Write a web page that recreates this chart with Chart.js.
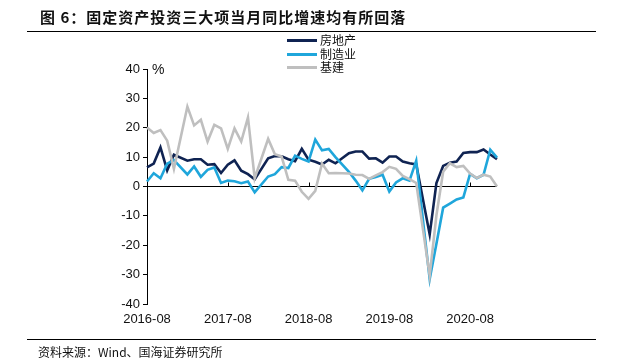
<!DOCTYPE html>
<html>
<head>
<meta charset="utf-8">
<script src="https://cdn.jsdelivr.net/npm/chart.js@4/dist/chart.umd.min.js"></script>
<style>
  html, body { margin: 0; padding: 0; background: #fff; }
  #wrap { position: relative; width: 623px; height: 363px; overflow: hidden; }
  #c { position: absolute; left: 0; top: 0; }
  .title { position: absolute; left: 40px; top: 6px; font: bold 15px "Noto Sans CJK SC", sans-serif; letter-spacing: 1px; color: #111; white-space: nowrap; }
  .rule { position: absolute; left: 27px; width: 569px; height: 1px; background: #000; }
  .legend { position: absolute; left: 287px; top: 33px; font: 12px "Noto Sans CJK SC", sans-serif; color: #111; }
  .legend div { position: relative; height: 13.5px; line-height: 13.5px; padding-left: 33px; }
  .legend span { position: absolute; left: 0; top: 6px; width: 30px; height: 3px; }
  .pct { position: absolute; left: 152px; top: 61px; font: 14px "Liberation Sans", Arial, sans-serif; color: #111; }
  .source { position: absolute; left: 38px; top: 343px; font: 12px "Noto Sans CJK SC", sans-serif; color: #111; white-space: nowrap; }
</style>
</head>
<body>
<div id="wrap">
  <canvas id="c" width="623" height="363"></canvas>
  <div class="title">图 6：固定资产投资三大项当月同比增速均有所回落</div>
  <div class="rule" style="top:31px"></div>
  <div class="legend">
    <div><span style="background:#0F2352"></span>房地产</div>
    <div><span style="background:#1FA6DB"></span>制造业</div>
    <div><span style="background:#BFBFBF"></span>基建</div>
  </div>
  <div class="pct">%</div>
  <div class="rule" style="top:339px"></div>
  <div class="source">资料来源：Wind、国海证券研究所</div>
</div>
<script>
const months = [
  '2016-08','2016-09','2016-10','2016-11','2016-12',
  '2017-01','2017-02','2017-03','2017-04','2017-05','2017-06','2017-07','2017-08','2017-09','2017-10','2017-11','2017-12',
  '2018-01','2018-02','2018-03','2018-04','2018-05','2018-06','2018-07','2018-08','2018-09','2018-10','2018-11','2018-12',
  '2019-01','2019-02','2019-03','2019-04','2019-05','2019-06','2019-07','2019-08','2019-09','2019-10','2019-11','2019-12',
  '2020-01','2020-02','2020-03','2020-04','2020-05','2020-06','2020-07','2020-08','2020-09','2020-10','2020-11','2020-12'
];
const tickLabels = ['2016-08','2017-08','2018-08','2019-08','2020-08'];

// 房地产
const realEstate = [
  6.5, 7.8, 13.3, 5.5, 10.8,
  null, 8.8, 9.3, 9.3, 7.4, 7.6, 4.6, 7.4, 8.9, 5.4, 4.2, 2.4,
  null, 9.6, 10.4, 10.3, 9.3, 8.6, 12.8, 9.1, 8.4, 7.5, 9.1, 7.9,
  null, 11.3, 11.9, 11.9, 9.5, 9.6, 8.1, 10.2, 10.2, 8.5, 7.9, 7.5,
  null, -16.3, 1.2, 7.0, 8.1, 8.5, 11.4, 11.7, 11.7, 12.6, 10.9, 9.3
];
// 制造业
const manufacturing = [
  1.7, 4.5, 2.8, 7.8, 9.0,
  null, 4.1, 6.8, 3.3, 5.7, 6.5, 1.2, 2.0, 1.8, 1.1, 1.7, -2.0,
  null, 3.4, 4.2, 6.6, 6.3, 10.5, 9.4, 8.5, 16.0, 12.3, 12.8, 10.0,
  null, 5.0, 2.0, -1.3, 2.6, 3.2, 4.0, -1.7, 1.4, 2.8, 2.0, 8.8,
  null, -31.5, -19.5, -7.2, -5.8, -4.4, -3.7, 4.3, 2.8, 4.0, 12.5, 9.8
];
// 基建
const infrastructure = [
  20.1, 18.2, 19.2, 15.6, 6.0,
  null, 27.2, 20.8, 22.7, 15.3, 21.0, 19.8, 12.8, 19.8, 15.3, 23.5, 2.8,
  null, 16.2, 11.0, 10.2, 2.3, 2.0, -1.8, -4.2, -1.5, 7.8, 4.5, 4.6,
  null, 4.4, 4.0, 3.9, 2.6, 3.8, 4.9, 6.7, 6.0, 3.6, 2.5, 1.2,
  null, -30.3, -9.8, 5.0, 7.9, 6.6, 7.0, 4.4, 2.9, 4.0, 3.4, 0.0
];

const axisFont = { family: '"Liberation Sans", Arial, sans-serif', size: 13 };

const yearTicks = {
  id: 'yearTicks',
  afterDatasetsDraw(chart) {
    const x = chart.scales.x, y = chart.scales.y;
    const ctx = chart.ctx;
    const y0 = y.getPixelForValue(0);
    ctx.save();
    ctx.strokeStyle = '#000';
    ctx.lineWidth = 1;
    tickLabels.forEach(l => {
      const idx = months.indexOf(l);
      if (idx <= 0) return;
      const px = Math.round(x.getPixelForValue(idx)) + 0.5;
      ctx.beginPath();
      ctx.moveTo(px, y0);
      ctx.lineTo(px, y0 - 4);
      ctx.stroke();
    });
    ctx.restore();
  }
};

new Chart(document.getElementById('c'), {
  type: 'line',
  data: {
    labels: months,
    datasets: [
      { label: '房地产', data: realEstate, borderColor: '#0F2352', order: 2 },
      { label: '制造业', data: manufacturing, borderColor: '#1FA6DB', order: 1 },
      { label: '基建', data: infrastructure, borderColor: '#BFBFBF', order: 0 }
    ].map(d => Object.assign(d, { borderWidth: 2.6, pointRadius: 0, tension: 0, spanGaps: true, fill: false, borderJoinStyle: 'miter' }))
  },
  options: {
    responsive: false,
    animation: false,
    layout: { padding: { top: 69, right: 126, bottom: 0, left: 0 } },
    plugins: { legend: { display: false }, tooltip: { enabled: false } },
    scales: {
      x: {
        type: 'category',
        offset: false,
        grid: { display: false, drawTicks: false },
        border: { display: false },
        ticks: {
          autoSkip: false, maxRotation: 0, minRotation: 0, padding: 8,
          color: '#111', font: axisFont,
          callback: (v, i) => tickLabels.includes(months[i]) ? months[i] : ''
        },
        afterFit: s => { s.height = 59; }
      },
      y: {
        min: -40, max: 40,
        ticks: { stepSize: 10, color: '#111', font: axisFont, padding: 3 },
        grid: {
          drawOnChartArea: true,
          color: c => (c.tick && c.tick.value === 0) ? '#000' : 'rgba(0,0,0,0)',
          tickColor: '#000', tickLength: 4, lineWidth: 1
        },
        border: { display: true, color: '#000', width: 1 },
        afterFit: s => { s.width = 147; }
      }
    }
  },
  plugins: [yearTicks]
});
</script>
</body>
</html>
